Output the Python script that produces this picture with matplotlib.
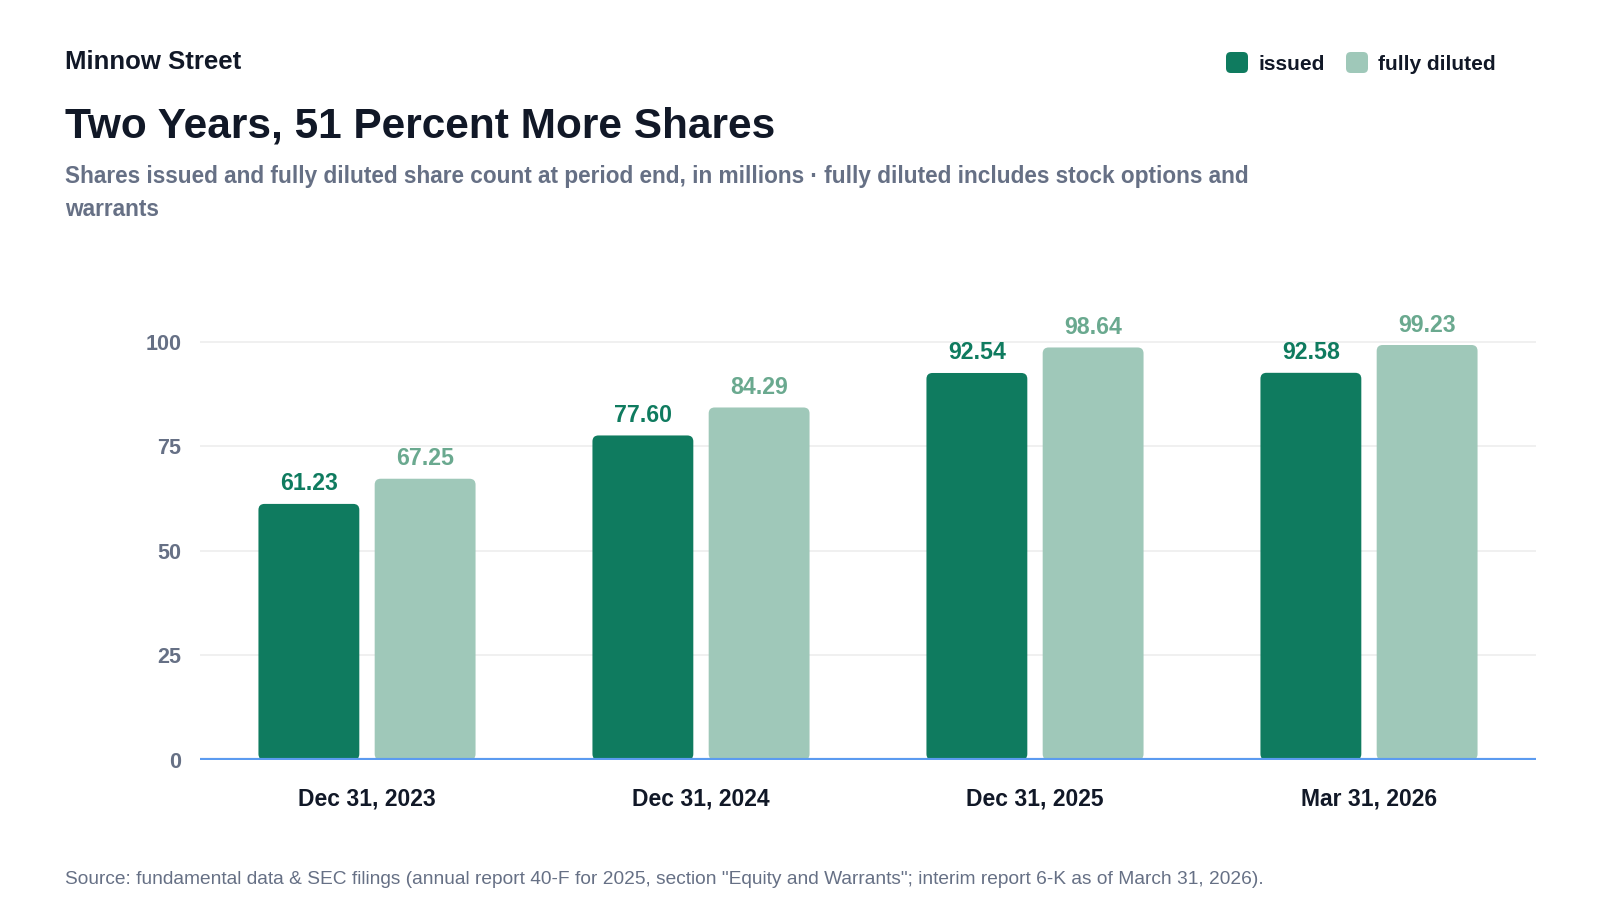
import numpy as np
import matplotlib
matplotlib.use("Agg")
import matplotlib.pyplot as plt
from matplotlib.patches import FancyBboxPatch

plt.rcParams['font.family'] = ['Liberation Sans', 'DejaVu Sans']

periods = ["Dec 31, 2023", "Dec 31, 2024", "Dec 31, 2025", "Mar 31, 2026"]
issued = [61.23, 77.60, 92.54, 92.58]
diluted = [67.25, 84.29, 98.64, 99.23]
yticks = [0, 25, 50, 75, 100]

c_issued = "#0f7b5f"
c_diluted = "#9fc8b9"
c_dil_text = "#6aa98f"
dark = "#111827"
gray = "#667085"

fig = plt.figure(figsize=(16, 9), dpi=100)
ax = fig.add_axes([0.125, 0.1556, 0.835, 0.5111])

x = np.arange(len(periods))
bw = 0.302
off = 0.174

# px -> data radius
rad_x = 6 / 334
asp = (6 / 4.18) / rad_x

for vals, shift, col, tcol in [(issued, -off, c_issued, c_issued),
                               (diluted, off, c_diluted, c_dil_text)]:
    bars = ax.bar(x + shift, vals, bw, color=col, alpha=0)
    for b, v in zip(bars, vals):
        p = FancyBboxPatch((b.get_x(), 0), b.get_width(), v,
                           boxstyle=f"round,pad=0,rounding_size={rad_x}",
                           mutation_aspect=asp, fc=col, ec="none", zorder=2)
        ax.add_patch(p)
        ax.annotate(f"{v:.2f}", (b.get_x() + b.get_width() / 2, v),
                    xytext=(0, 20), textcoords="offset pixels",
                    ha="center", va="center", fontsize=16.7,
                    fontweight="bold", color=tcol)

ax.set_xlim(-0.5, len(periods) - 0.5)
ax.set_ylim(0, 110)
ax.set_yticks(yticks)
ax.set_yticklabels([str(t) for t in yticks], fontsize=15.5, fontweight="bold", color=gray)
ax.set_xticks(x)
ax.set_xticklabels(periods, fontsize=16.5, fontweight="bold", color=dark)
ax.tick_params(axis="y", length=0, pad=13.5)
ax.tick_params(axis="x", length=0, pad=20)
ax.grid(axis="y", color="#eeeeee", lw=1.2, zorder=0)
ax.set_axisbelow(True)
for s in ax.spines.values():
    s.set_visible(False)
ax.axhline(0, color="#5b9bf0", lw=3, zorder=3)

# header texts
fig.text(65 / 1600, 1 - 62 / 900, "Minnow Street", fontsize=18.5,
         fontweight="bold", color=dark, va="center")
fig.text(65 / 1600, 1 - 126 / 900, "Two Years, 51 Percent More Shares",
         fontsize=30.5, fontweight="bold", color=dark, va="center")
fig.text(65 / 1600, 1 - 176 / 900,
         "Shares issued and fully diluted share count at period end, in millions \u00b7 fully diluted includes stock options and",
         fontsize=16.3, fontweight="bold", color=gray, va="center")
fig.text(65 / 1600, 1 - 209 / 900, "warrants",
         fontsize=16.3, fontweight="bold", color=gray, va="center")

fig.text(65 / 1600, 1 - 879 / 900,
         "Source: fundamental data & SEC filings (annual report 40-F for 2025, section \"Equity and Warrants\"; interim report 6-K as of March 31, 2026).",
         fontsize=13.8, color=gray, va="center")

# legend
for lx, label, col in [(1226, "issued", c_issued), (1346, "fully diluted", c_diluted)]:
    sq = FancyBboxPatch((lx / 1600, 1 - 73 / 900), 22 / 1600, 21 / 900,
                        boxstyle="round,pad=0,rounding_size=0.003",
                        mutation_aspect=16 / 9, transform=fig.transFigure,
                        fc=col, ec="none")
    fig.patches.append(sq)
    fig.text((lx + 32) / 1600, 1 - 64 / 900, label, fontsize=15,
             fontweight="bold", color=dark, va="center")

fig.savefig("out.png", dpi=100, facecolor="white")
